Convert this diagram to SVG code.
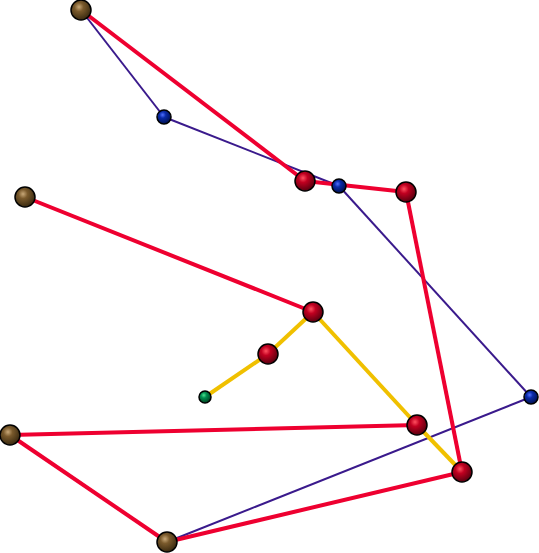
<svg xmlns="http://www.w3.org/2000/svg" width="539" height="553" viewBox="0 0 539 553">
<defs>
<radialGradient id="gRed" cx="0.4" cy="0.35" r="0.65">
<stop offset="0" stop-color="#ff5060"/><stop offset="0.35" stop-color="#c00020"/><stop offset="1" stop-color="#5a0010"/>
</radialGradient>
<radialGradient id="gBrown" cx="0.4" cy="0.35" r="0.65">
<stop offset="0" stop-color="#c8a878"/><stop offset="0.35" stop-color="#7a5a2c"/><stop offset="1" stop-color="#3a2a10"/>
</radialGradient>
<radialGradient id="gBlue" cx="0.4" cy="0.35" r="0.65">
<stop offset="0" stop-color="#5070ff"/><stop offset="0.35" stop-color="#0a2aa8"/><stop offset="1" stop-color="#001050"/>
</radialGradient>
<radialGradient id="gGreen" cx="0.4" cy="0.35" r="0.65">
<stop offset="0" stop-color="#50e090"/><stop offset="0.35" stop-color="#009050"/><stop offset="1" stop-color="#00401f"/>
</radialGradient>
</defs>
<style>
.r{stroke:#ee0030;stroke-width:4;fill:none}
.b{stroke:#3a1a8c;stroke-width:2;fill:none}
.y{stroke:#f0c000;stroke-width:4;fill:none}
.ball{stroke:#000;stroke-width:1.5}
.red{fill:url(#gRed)}.brown{fill:url(#gBrown)}.blue{fill:url(#gBlue)}.green{fill:url(#gGreen)}
</style>
<rect width="539" height="553" fill="#fff"/>
<g id="connectors">
<line class="b" x1="81" y1="10" x2="164" y2="117"/>
<line class="b" x1="164" y1="117" x2="339" y2="186"/>
<line class="b" x1="339" y1="186" x2="531" y2="397"/>
<line class="b" x1="531" y1="397" x2="167" y2="542"/>
<line class="r" x1="81" y1="10" x2="305" y2="181"/>
<line class="r" x1="305" y1="181" x2="406" y2="192"/>
<line class="r" x1="406" y1="192" x2="462" y2="472"/>
<line class="r" x1="25" y1="197" x2="313" y2="312"/>
<line class="r" x1="10" y1="435" x2="417" y2="425"/>
<line class="r" x1="10" y1="435" x2="167" y2="542"/>
<line class="r" x1="167" y1="542" x2="462" y2="472"/>
<line class="y" x1="205" y1="397" x2="268" y2="354"/>
<line class="y" x1="268" y1="354" x2="313" y2="312"/>
<line class="y" x1="313" y1="312" x2="417" y2="425"/>
<line class="y" x1="417" y1="425" x2="462" y2="472"/>
</g>
<g id="n1"><circle class="ball brown" cx="81" cy="10" r="10"/></g>
<g id="n2"><circle class="ball blue" cx="164" cy="117" r="7"/></g>
<g id="n3"><circle class="ball red" cx="305" cy="181" r="10"/></g>
<g id="n4"><circle class="ball blue" cx="339" cy="186" r="7"/></g>
<g id="n5"><circle class="ball red" cx="406" cy="192" r="10"/></g>
<g id="n6"><circle class="ball brown" cx="25" cy="197" r="10"/></g>
<g id="n7"><circle class="ball red" cx="313" cy="312" r="10"/></g>
<g id="n8"><circle class="ball red" cx="268" cy="354" r="10"/></g>
<g id="n9"><circle class="ball green" cx="205" cy="397" r="6"/></g>
<g id="n10"><circle class="ball blue" cx="531" cy="397" r="7"/></g>
<g id="n11"><circle class="ball red" cx="417" cy="425" r="10"/></g>
<g id="n12"><circle class="ball brown" cx="10" cy="435" r="10"/></g>
<g id="n13"><circle class="ball red" cx="462" cy="472" r="10"/></g>
<g id="n14"><circle class="ball brown" cx="167" cy="542" r="10"/></g>
</svg>
